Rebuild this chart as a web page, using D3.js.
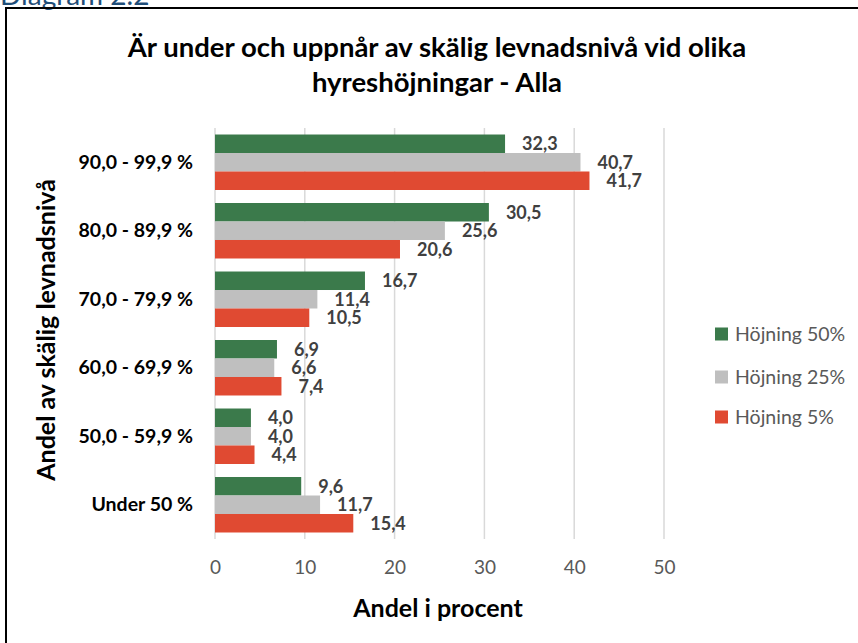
<!DOCTYPE html>
<html><head><meta charset="utf-8">
<script src="https://cdn.jsdelivr.net/npm/d3@7"></script>
<style>body{margin:0;background:#fff;} svg{display:block;}</style>
</head><body>
<svg id="c" width="858" height="643"></svg>
<script>
const categories = ["90,0 - 99,9 %","80,0 - 89,9 %","70,0 - 79,9 %","60,0 - 69,9 %","50,0 - 59,9 %","Under 50 %"];
const seriesNames = ["Höjning 50%","Höjning 25%","Höjning 5%"];
const hojning50 = [32.3,30.5,16.7,6.9,4.0,9.6];
const hojning25 = [40.7,25.6,11.4,6.6,4.0,11.7];
const hojning5  = [41.7,20.6,10.5,7.4,4.4,15.4];
const xTicks = [0,10,20,30,40,50];
const colors = ["#3B7A4B","#BFBFBF","#E04A32"];
const series = [hojning50,hojning25,hojning5];

(function(){
const svg = d3.select("#c");
const font = "Lato, 'Open Sans', sans-serif";
const pLeft=215, pRight=664, pTop=128, pBottom=539;

svg.append("text").attr("x",0).attr("y",5).attr("font-family",font).attr("font-size",28)
  .attr("fill","#1F4E79").text("Diagram 2.2");
svg.append("path").attr("d","M6,643 V8 H858").attr("fill","none").attr("stroke","#000").attr("stroke-width",2);

const x = d3.scaleLinear().domain([0,50]).range([pLeft,pRight]);
const y0 = d3.scaleBand().domain(categories).range([pTop,pBottom]).paddingInner(0.19).paddingOuter(0.095);
const y1 = d3.scaleBand().domain(seriesNames).range([0,y0.bandwidth()]);

svg.append("g").selectAll("line").data(xTicks).join("line")
  .attr("x1",d=>x(d)).attr("x2",d=>x(d)).attr("y1",pTop).attr("y2",pBottom)
  .attr("stroke","#D9D9D9").attr("stroke-width",1.5);

const xAxis = d3.axisBottom(x).tickValues(xTicks).tickSize(0).tickPadding(0).tickFormat(d3.format("d"));
const gx = svg.append("g").attr("transform",`translate(0,${pBottom+21})`).call(xAxis);
gx.select(".domain").remove();
gx.selectAll("text").attr("font-family",font).attr("font-size",19).attr("fill","#595959");

const yAxis = d3.axisLeft(y0).tickSize(0).tickPadding(22);
const gy = svg.append("g").attr("transform",`translate(${pLeft},0)`).call(yAxis);
gy.select(".domain").remove();
gy.selectAll("text").attr("font-family",font).attr("font-size",19.5).attr("font-weight","bold").attr("fill","#000");

const fmt = v => d3.format(".1f")(v).replace(".",",");
series.forEach((vals,si)=>{
  const g = svg.append("g");
  g.selectAll("rect").data(vals).join("rect")
    .attr("x",x(0)).attr("y",(d,i)=>y0(categories[i])+y1(seriesNames[si]))
    .attr("width",d=>x(d)-x(0)).attr("height",y1.bandwidth())
    .attr("fill",colors[si]);
  g.selectAll("text").data(vals).join("text")
    .attr("x",d=>x(d)+17).attr("y",(d,i)=>y0(categories[i])+y1(seriesNames[si])+y1.bandwidth()/2)
    .attr("dy","0.36em").attr("font-family",font).attr("font-size",18).attr("font-weight","bold")
    .attr("fill","#404040").text(d=>fmt(d));
});

const title = svg.append("text").attr("text-anchor","middle").attr("font-family",font)
  .attr("font-size",27.5).attr("font-weight","bold").attr("fill","#000");
title.append("tspan").attr("x",437).attr("y",57).text("Är under och uppnår av skälig levnadsnivå vid olika");
title.append("tspan").attr("x",437).attr("y",92).text("hyreshöjningar - Alla");

svg.append("text").attr("x",438).attr("y",617).attr("text-anchor","middle").attr("font-family",font)
  .attr("font-size",25).attr("font-weight","bold").text("Andel i procent");
svg.append("text").attr("transform","translate(55,330) rotate(-90)").attr("text-anchor","middle")
  .attr("font-family",font).attr("font-size",25).attr("font-weight","bold").text("Andel av skälig levnadsnivå");

const legendY = [334,377,417];
const lg = svg.append("g");
seriesNames.forEach((n,i)=>{
  lg.append("rect").attr("x",715).attr("y",legendY[i]-6.5).attr("width",13).attr("height",13).attr("fill",colors[i]);
  lg.append("text").attr("x",735).attr("y",legendY[i]).attr("dy","0.36em").attr("font-family",font)
    .attr("font-size",19.5).attr("fill","#595959").text(n);
});
})();
</script>
</body></html>
